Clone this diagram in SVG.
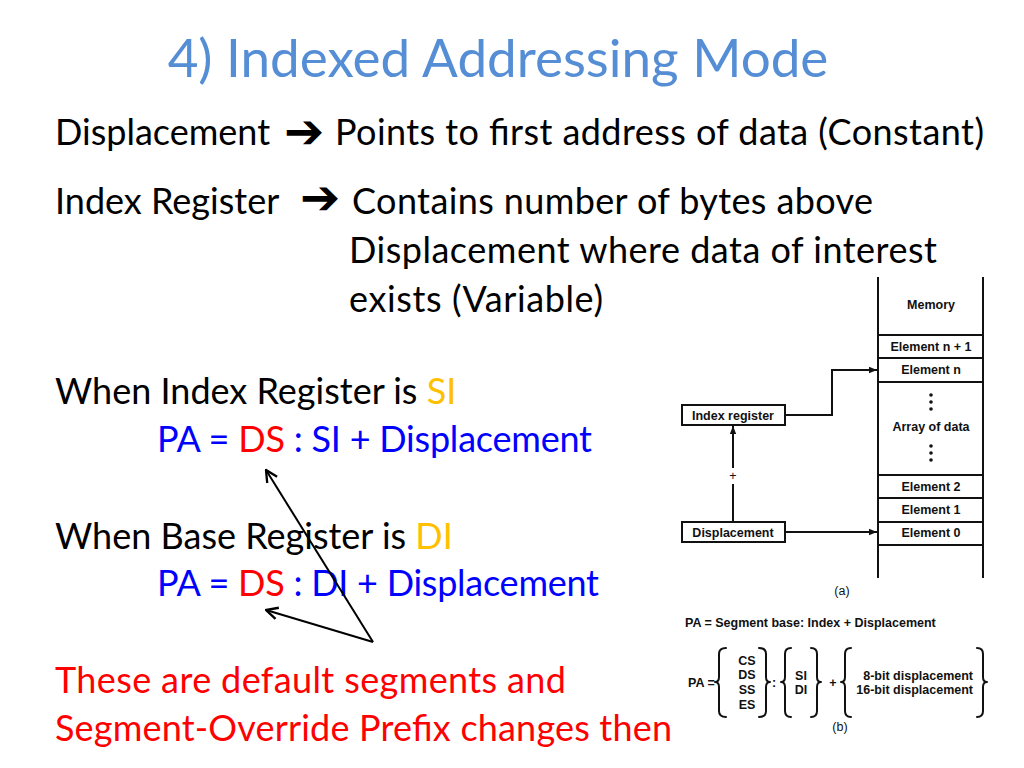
<svg xmlns="http://www.w3.org/2000/svg" width="1024" height="768" viewBox="0 0 1024 768">
<defs>
<style>
.title{font-family:Lato,"Open Sans",sans-serif;font-size:53px;fill:#558ED5}
.body{font-family:Lato,"Open Sans",sans-serif;font-size:36px;fill:#000}
.arr{font-family:"DejaVu Sans",sans-serif;font-weight:bold;font-size:48px;fill:#000}
.blue{fill:#0000FF}.red{fill:#FF0000}.yel{fill:#FFC000}
.dg{font-family:"Liberation Sans",Arial,sans-serif;font-weight:bold;font-size:12.5px;fill:#111;text-anchor:middle}
.ln{stroke:#111;stroke-width:2;fill:none}
.br{stroke:#111;stroke-width:2;fill:none;stroke-linecap:round;stroke-linejoin:round}
</style>
<marker id="fa" viewBox="0 0 10 10" refX="10" refY="5" markerWidth="10" markerHeight="8" markerUnits="userSpaceOnUse" orient="auto"><path d="M0,1 L10,5 L0,9 Z" fill="#111"/></marker>
<marker id="oa" viewBox="0 0 12 12" refX="11" refY="6" markerWidth="14" markerHeight="14" markerUnits="userSpaceOnUse" orient="auto"><path d="M1,1 L11,6 L1,11" fill="none" stroke="#000" stroke-width="2"/></marker>
</defs>
<rect width="1024" height="768" fill="#fff"/>

<text class="title" x="498" y="77" text-anchor="middle">4) Indexed Addressing Mode</text>

<g id="text-body">
<text class="body" x="55" y="145">Displacement</text>
<text class="arr" x="284" y="148">➔</text>
<text class="body" x="335" y="145" textLength="649" lengthAdjust="spacing">Points to first address of data (Constant)</text>
<text class="body" x="55" y="214">Index Register</text>
<text class="arr" x="300" y="214">➔</text>
<text class="body" x="352" y="214" textLength="521" lengthAdjust="spacing">Contains number of bytes above</text>
<text class="body" x="349" y="263" textLength="588" lengthAdjust="spacing">Displacement where data of interest</text>
<text class="body" x="349" y="312" textLength="254" lengthAdjust="spacing">exists (Variable)</text>
<text class="body" x="55" y="404">When Index Register is <tspan class="yel">SI</tspan></text>
<text class="body blue" x="157" y="452" textLength="435" lengthAdjust="spacing">PA = <tspan class="red">DS</tspan> : SI + Displacement</text>
<text class="body" x="55" y="549">When Base Register is <tspan class="yel">DI</tspan></text>
<text class="body blue" x="157" y="596" textLength="442" lengthAdjust="spacing">PA = <tspan class="red">DS</tspan> : DI + Displacement</text>
<text class="body red" x="55" y="693" textLength="511" lengthAdjust="spacing">These are default segments and</text>
<text class="body red" x="55" y="741" textLength="617" lengthAdjust="spacing">Segment-Override Prefix changes then</text>
</g>

<g id="pointer-arrows">
<line x1="373" y1="642" x2="266" y2="470" stroke="#000" stroke-width="2" marker-end="url(#oa)"/>
<line x1="373" y1="642" x2="266" y2="610" stroke="#000" stroke-width="2" marker-end="url(#oa)"/>
</g>

<g id="figure-a">
<g id="memory">
<line class="ln" x1="878" y1="277" x2="878" y2="578"/>
<line class="ln" x1="983" y1="277" x2="983" y2="578"/>
<line class="ln" x1="878" y1="335" x2="983" y2="335"/>
<line class="ln" x1="878" y1="358" x2="983" y2="358"/>
<line class="ln" x1="878" y1="382" x2="983" y2="382"/>
<line class="ln" x1="878" y1="475" x2="983" y2="475"/>
<line class="ln" x1="878" y1="498" x2="983" y2="498"/>
<line class="ln" x1="878" y1="522" x2="983" y2="522"/>
<line class="ln" x1="878" y1="545" x2="983" y2="545"/>
<text class="dg" x="931" y="309">Memory</text>
<text class="dg" x="931" y="351">Element n + 1</text>
<text class="dg" x="931" y="374">Element n</text>
<circle cx="931" cy="395" r="1.8" fill="#111"/>
<circle cx="931" cy="402" r="1.8" fill="#111"/>
<circle cx="931" cy="409" r="1.8" fill="#111"/>
<text class="dg" x="931" y="431">Array of data</text>
<circle cx="931" cy="446" r="1.8" fill="#111"/>
<circle cx="931" cy="453" r="1.8" fill="#111"/>
<circle cx="931" cy="460" r="1.8" fill="#111"/>
<text class="dg" x="931" y="491">Element 2</text>
<text class="dg" x="931" y="514">Element 1</text>
<text class="dg" x="931" y="537">Element 0</text>
</g>
<g id="index-register">
<rect class="ln" x="682" y="405" width="103" height="20"/>
<text class="dg" x="733" y="419.5">Index register</text>
</g>
<g id="displacement">
<rect class="ln" x="682" y="522" width="103" height="20"/>
<text class="dg" x="733" y="536.5">Displacement</text>
</g>
<g id="connectors">
<polyline class="ln" points="785,415 832,415 832,370 877,370" marker-end="url(#fa)"/>
<line class="ln" x1="785" y1="532" x2="877" y2="532" marker-end="url(#fa)"/>
<line class="ln" x1="733" y1="521" x2="733" y2="484"/>
<line class="ln" x1="733" y1="468" x2="733" y2="426" marker-end="url(#fa)"/>
<text class="dg" x="733" y="480" style="font-weight:normal">+</text>
</g>
<text class="dg" x="842" y="595" style="font-weight:normal">(a)</text>
</g>

<g id="figure-b">
<text class="dg" x="685" y="627" style="text-anchor:start">PA = Segment base: Index + Displacement</text>
<text class="dg" x="688" y="687" style="text-anchor:start">PA =</text>
<path class="br" d="M726,648 Q719,648 719,654 L719,677 Q719,682 715,682 Q719,682 719,687 L719,711 Q719,717 726,717"/>
<text class="dg" x="747" y="665">CS</text>
<text class="dg" x="747" y="679">DS</text>
<text class="dg" x="747" y="694">SS</text>
<text class="dg" x="747" y="709">ES</text>
<path class="br" d="M759,648 Q766,648 766,654 L766,677 Q766,682 770,682 Q766,682 766,687 L766,711 Q766,717 759,717"/>
<text class="dg" x="774" y="687">:</text>
<path class="br" d="M791,648 Q785,648 785,654 L785,677 Q785,682 781,682 Q785,682 785,687 L785,711 Q785,717 791,717"/>
<text class="dg" x="801" y="680">SI</text>
<text class="dg" x="801" y="694">DI</text>
<path class="br" d="M811,648 Q817,648 817,654 L817,677 Q817,682 821,682 Q817,682 817,687 L817,711 Q817,717 811,717"/>
<text class="dg" x="833" y="687">+</text>
<path class="br" d="M851,648 Q845,648 845,654 L845,677 Q845,682 841,682 Q845,682 845,687 L845,711 Q845,717 851,717"/>
<text class="dg" x="973" y="680" style="text-anchor:end">8-bit displacement</text>
<text class="dg" x="973" y="694" style="text-anchor:end">16-bit displacement</text>
<path class="br" d="M977,648 Q983,648 983,654 L983,677 Q983,682 987,682 Q983,682 983,687 L983,711 Q983,717 977,717"/>
<text class="dg" x="840" y="731" style="font-weight:normal">(b)</text>
</g>
</svg>
